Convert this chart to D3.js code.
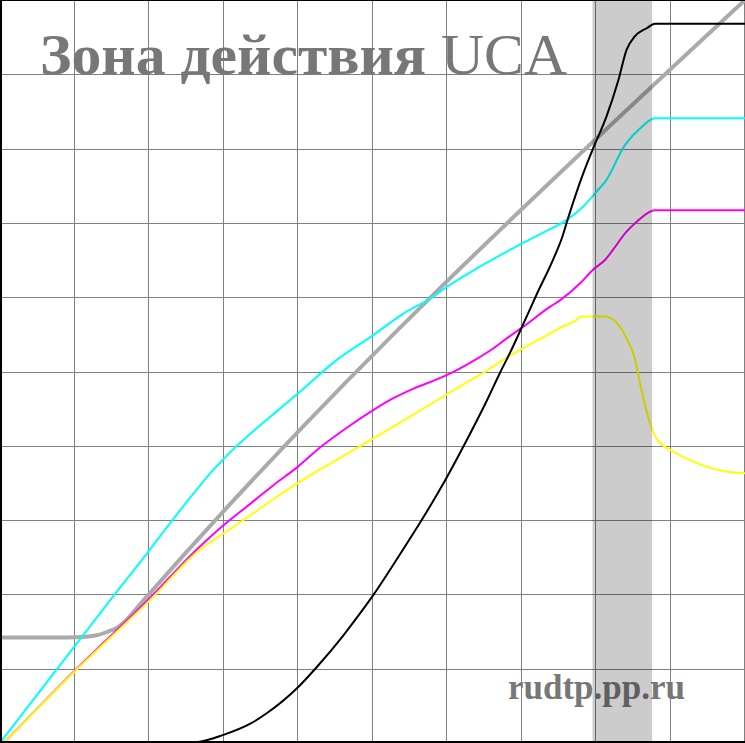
<!DOCTYPE html>
<html><head><meta charset="utf-8">
<script src="https://cdn.jsdelivr.net/npm/d3@7"></script>
<style>html,body{margin:0;padding:0;background:#fff;overflow:hidden}</style>
</head><body>
<script>
const W = 745, H = 743;
const gridTicks = [0,10,20,30,40,50,60,70,80,90,100];
const bandRange = [79.6, 87.6];

const grayX  = [0, 9, 11.5, 13, 14.5, 15.7, 17, 19, 100];
const grayY  = [14.2, 14.2, 14.3, 14.5, 15.0, 15.5, 16.6, 18.9, 100];

const cyanX = [0, 5, 10, 15, 20.1, 23.3, 26.8, 28.2, 30.0, 31.8, 34.5, 37.1, 40.3, 45, 50.1, 54, 58.2, 60.0, 64.4, 68.9, 70.2, 72.9, 76.1, 78.3, 80.5, 81.2, 83.9, 85.9, 87.9, 100];
const cyanY = [0, 6.5, 13.0, 19.5, 26.0, 30.2, 34.6, 36.3, 38.2, 40.0, 42.4, 44.6, 47.3, 51.4, 54.9, 57.7, 60.1, 61.4, 64.1, 66.6, 67.3, 68.7, 70.4, 72.2, 74.7, 75.5, 80.5, 82.7, 84.1, 84.1];

const magX = [0.5, 10, 20.1, 26.8, 30.0, 33.1, 36.7, 40.0, 43.0, 46.5, 50.1, 52.6, 55.5, 59.5, 61.7, 64, 66.2, 68.2, 70.2, 73.8, 75.2, 77.9, 79.6, 81.2, 82.3, 83.9, 85.5, 87.9, 100];
const magY = [0, 9.7, 19.5, 26.4, 29.3, 31.8, 34.7, 37.2, 39.8, 42.4, 44.8, 46.3, 47.7, 49.3, 50.4, 51.7, 53.1, 54.6, 56.0, 58.7, 59.6, 61.9, 63.7, 65.0, 66.4, 68.6, 70.2, 71.7, 71.7];

const yelX = [0.5, 10, 20.4, 26.8, 30.0, 33.1, 36.7, 40.0, 45, 50.1, 55, 59.1, 63.1, 65.8, 67.1, 69.8, 73.8, 75.2, 77.2, 78.1, 81.2, 84.1, 85.2, 86.1, 87.2, 88.1, 90.8, 93.5, 97.1, 100];
const yelY = [0, 9.6, 19.5, 26.0, 28.2, 30.3, 32.8, 35.0, 38.0, 41.0, 43.9, 46.4, 48.8, 50.4, 51.3, 52.9, 55.1, 55.9, 56.8, 57.4, 57.4, 54.5, 51.8, 47.5, 43.2, 41.0, 39.0, 37.7, 36.6, 36.3];

const blkX = [0, 25.5, 30.0, 33.6, 35.8, 40.0, 42.5, 46.1, 48.3, 50.1, 53.5, 56.6, 60.0, 62.2, 65.5, 67.1, 68.5, 70.2, 72.0, 74.3, 75.4, 76.3, 78.3, 79.6, 81.4, 83.0, 84.1, 85.2, 86.8, 87.9, 100];
const blkY = [0, 0, 1.1, 2.6, 4.0, 7.5, 10.2, 14.5, 17.4, 19.9, 25.1, 30.0, 35.8, 39.9, 46.4, 49.8, 52.6, 56.3, 60.3, 65.2, 67.9, 70.8, 76.7, 80.0, 84.3, 89.2, 93.3, 95.1, 96.2, 96.8, 96.8];

const titleMain = "Зона действия ";
const titleTail = "UCA";
const watermark = "rudtp.pp.ru";

const x = d3.scaleLinear().domain([0,100]).range([0, W]);
const y = d3.scaleLinear().domain([0,100]).range([H, 0]);

const svg = d3.select("body").append("svg").attr("width", W).attr("height", H)
  .style("display","block");
svg.append("rect").attr("width", W).attr("height", H).attr("fill", "#fff");

const snap = v => Math.round(v) - 0.5;
const g = svg.append("g");
g.selectAll("line.v").data(gridTicks.slice(1)).join("line")
  .attr("x1", d => snap(x(d))).attr("x2", d => snap(x(d)))
  .attr("y1", 0).attr("y2", H).attr("stroke", "#808080").attr("stroke-width", 1);
g.selectAll("line.h").data(gridTicks.slice(1, -1)).join("line")
  .attr("y1", d => snap(y(d)) + 1).attr("y2", d => snap(y(d)) + 1)
  .attr("x1", 0).attr("x2", W).attr("stroke", "#808080").attr("stroke-width", 1);

// title
const t = svg.append("text").attr("x", 40).attr("y", 74)
  .attr("font-family", "'Liberation Serif', 'Times New Roman', serif")
  .attr("font-size", 58).attr("fill", "#777");
t.append("tspan").attr("font-weight", "bold").text(titleMain);
t.append("tspan").attr("font-weight", "normal").text(titleTail);
t.attr("textLength", 527).attr("lengthAdjust", "spacingAndGlyphs");

svg.append("text").attr("x", 508).attr("y", 699)
  .attr("font-family", "'Liberation Serif', 'Times New Roman', serif")
  .attr("font-size", 35).attr("font-weight", "bold").attr("fill", "#777")
  .text(watermark);

const line = d3.line().x(d => x(d[0])).y(d => y(d[1])).curve(d3.curveMonotoneX);
function series(xs, ys, color, w) {
  svg.append("path").datum(d3.zip(xs, ys)).attr("d", line)
    .attr("fill", "none").attr("stroke", color).attr("stroke-width", w)
    .attr("stroke-linejoin", "round");
}
series(grayX, grayY, "#aaaaaa", 4);
series(cyanX, cyanY, "#00ffff", 2);
series(magX, magY, "#ff00ff", 2);
series(yelX, yelY, "#ffff00", 2);
series(blkX, blkY, "#000000", 2);

svg.append("rect").attr("x", x(bandRange[0]) - 0.5).attr("y", 0)
  .attr("width", x(bandRange[1]) - x(bandRange[0])).attr("height", H)
  .attr("fill", "#000").attr("fill-opacity", 0.2);

// border
svg.append("line").attr("x1", 1).attr("x2", 1).attr("y1", 0).attr("y2", H).attr("stroke", "#000").attr("stroke-width", 2);
svg.append("line").attr("x1", 0).attr("x2", W).attr("y1", 0.5).attr("y2", 0.5).attr("stroke", "#000").attr("stroke-width", 1);
svg.append("line").attr("x1", 0).attr("x2", W).attr("y1", H - 1).attr("y2", H - 1).attr("stroke", "#000").attr("stroke-width", 2);
</script>
</body></html>
